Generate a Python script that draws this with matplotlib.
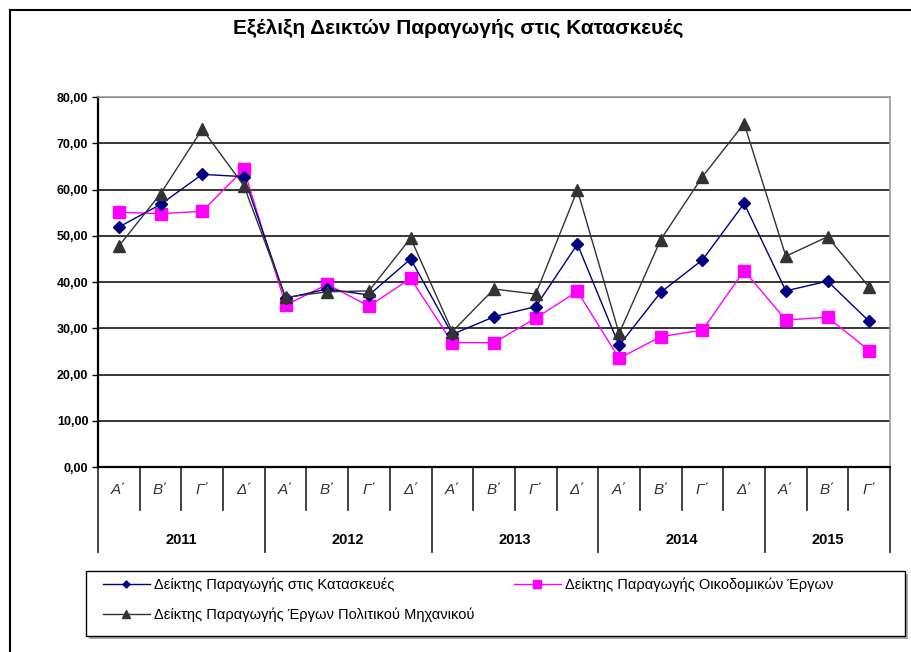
"""
Εξέλιξη Δεικτών Παραγωγής στις Κατασκευές - line chart per quarter
"""

import matplotlib
matplotlib.use('Agg')
import matplotlib.pyplot as plt
from matplotlib.lines import Line2D
from matplotlib.patches import Rectangle

plt.rcParams['font.family'] = ['Liberation Sans', 'DejaVu Sans']

# Δεδομένα
years = ['2011', '2012', '2013', '2014', '2015']
quarters_per_year = [4, 4, 4, 4, 3]
quarter_names = ['Α΄', 'Β΄', 'Γ΄', 'Δ΄']

kataskeves = [51.9, 56.8, 63.3, 62.8,
              36.5, 38.5, 37.2, 45.0,
              28.7, 32.5, 34.7, 48.2,
              26.3, 37.8, 44.8, 57.0,
              38.1, 40.2, 31.5]
oikodomika = [55.1, 54.8, 55.3, 64.4,
              35.0, 39.5, 34.8, 40.8,
              26.9, 26.9, 32.2, 38.0,
              23.5, 28.2, 29.6, 42.5,
              31.8, 32.4, 25.2]
politikou = [47.8, 59.1, 73.1, 60.8,
             36.7, 37.9, 38.1, 49.5,
             29.3, 38.5, 37.4, 59.9,
             28.9, 49.2, 62.8, 74.3,
             45.6, 49.8, 38.9]

labels = ['Δείκτης Παραγωγής στις Κατασκευές',
          'Δείκτης Παραγωγής Οικοδομικών Έργων',
          'Δείκτης Παραγωγής Έργων Πολιτικού Μηχανικού']

y_ticks = [0, 10, 20, 30, 40, 50, 60, 70, 80]

x = list(range(len(kataskeves)))

W, H = 911, 652
fig = plt.figure(figsize=(W / 100, H / 100), dpi=100)
ax = fig.add_axes([0.1076, 0.2837, 0.8694, 0.5673])

l1, = ax.plot(x, kataskeves, color='#000080', lw=1, marker='D', markersize=6,
              label=labels[0], zorder=4)
l2, = ax.plot(x, oikodomika, color='#ff00ff', lw=1, marker='s', markersize=9,
              label=labels[1], zorder=3)
l3, = ax.plot(x, politikou, color='#333333', lw=1, marker='^', markersize=9,
              label=labels[2], zorder=5)

ax.set_xlim(-0.5, len(x) - 0.5)
ax.set_ylim(0, 80)
ax.set_yticks(y_ticks)
ax.set_yticklabels([f'{v:.2f}'.replace('.', ',') for v in y_ticks],
                   fontsize=9, fontweight='bold')
ax.tick_params(axis='y', length=4, width=1, direction='out', pad=3)
ax.set_xticks([])
ax.yaxis.grid(True, color='black', lw=1.1)
ax.set_axisbelow(True)

for side in ['top', 'right']:
    ax.spines[side].set_color('#999999')
    ax.spines[side].set_linewidth(1.2)
ax.spines['left'].set_linewidth(1.6)
ax.spines['bottom'].set_linewidth(1.6)

# Άξονας κατηγοριών (τρίμηνα / έτη)
trans = ax.get_xaxis_transform()
pos = -0.5
for yr, n in zip(years, quarters_per_year):
    ax.plot([pos, pos], [0, -0.23], transform=trans, color='#333333',
            lw=1.3, clip_on=False)
    for q in range(n):
        if q > 0:
            ax.plot([pos + q, pos + q], [0, -0.115], transform=trans,
                    color='#333333', lw=1.3, clip_on=False)
        ax.text(pos + q + 0.5, -0.062, quarter_names[q], transform=trans,
                ha='center', va='center', fontsize=11, style='italic',
                color='#333333')
    ax.text(pos + n / 2, -0.197, yr, transform=trans, ha='center',
            va='center', fontsize=10.5, fontweight='bold')
    pos += n
ax.plot([pos, pos], [0, -0.23], transform=trans, color='#333333',
        lw=1.3, clip_on=False)

fig.text(0.503, 1 - 28 / H, 'Εξέλιξη Δεικτών Παραγωγής στις Κατασκευές',
         ha='center', va='center', fontsize=15, fontweight='bold')

# Πλαίσιο υπομνήματος με σκιά
fig.add_artist(Rectangle((89 / W, 1 - 639 / H), 819 / W, 65 / H,
                         transform=fig.transFigure, facecolor='#aaaaaa',
                         edgecolor='none', zorder=1))
fig.add_artist(Rectangle((86 / W, 1 - 636 / H), 819 / W, 65 / H,
                         transform=fig.transFigure, facecolor='white',
                         edgecolor='black', lw=1, zorder=2))

leg_kw = dict(loc='upper left', fontsize=10.5, frameon=False, borderpad=0,
              borderaxespad=0, handlelength=3.2, handletextpad=0.3,
              labelspacing=1.05, markerscale=0.6)
leg1 = fig.legend(handles=[l1, l3], bbox_to_anchor=(103 / W, 1 - 578 / H),
                  **leg_kw)
leg2 = fig.legend(handles=[l2], bbox_to_anchor=(514 / W, 1 - 578 / H),
                  **leg_kw)
leg1.set_zorder(3)
leg2.set_zorder(3)

# Περίγραμμα
fig.add_artist(Line2D([10 / W, 10 / W], [0.0, 1 - 10 / H],
                      transform=fig.transFigure, color='black', lw=1.5))
fig.add_artist(Line2D([10 / W, 1.0], [1 - 10 / H, 1 - 10 / H],
                      transform=fig.transFigure, color='black', lw=1.5))

fig.savefig('out.png', dpi=100)
